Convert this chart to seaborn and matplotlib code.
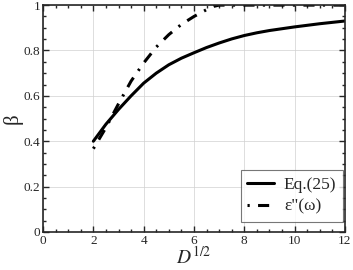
import matplotlib
matplotlib.use("Agg")
import matplotlib.pyplot as plt
import pandas as pd
import seaborn as sns
from matplotlib.ticker import MultipleLocator, FormatStrFormatter

# data
d_eq = [2, 2.5, 3, 3.5, 4, 4.5, 5, 5.5, 6, 6.5, 7, 7.5, 8, 8.5, 9, 9.5, 10, 10.5, 11, 11.5, 12]
beta_eq = [0.40, 0.475, 0.54, 0.60, 0.656, 0.70, 0.737, 0.766, 0.79, 0.813, 0.833, 0.851, 0.866,
           0.878, 0.888, 0.896, 0.904, 0.911, 0.918, 0.924, 0.93]
d_eps = [2, 2.5, 3, 3.5, 4, 4.5, 5, 5.5, 6, 6.5, 6.8, 7, 8, 9, 10, 11, 12]
beta_eps = [0.367, 0.46, 0.565, 0.665, 0.745, 0.815, 0.87, 0.915, 0.95, 0.98, 0.995, 1.0,
            1.0, 1.0, 1.0, 1.0, 1.0]

sns.set_style("ticks")
plt.rcParams['font.family'] = ['Liberation Serif', 'DejaVu Serif']
plt.rcParams['mathtext.fontset'] = 'stix'
plt.rcParams['lines.scale_dashes'] = False

fig = plt.figure(figsize=(3.53, 2.70), dpi=100)
ax = fig.add_axes([0.122, 0.141, 0.855, 0.840])

df_eq = pd.DataFrame({"D": d_eq, "beta": beta_eq})
df_eps = pd.DataFrame({"D": d_eps, "beta": beta_eps})
sns.lineplot(data=df_eq, x="D", y="beta", ax=ax, color="black", lw=2.2, label="Eq.(25)",
             legend=False)
sns.lineplot(data=df_eps, x="D", y="beta", ax=ax, color="black", lw=2.2, label="ε\"(ω)",
             legend=False, linestyle=(14, (8, 6, 1.6, 6)))

ax.set_xlim(0, 12)
ax.set_ylim(0, 1)
ax.xaxis.set_major_locator(MultipleLocator(2))
ax.xaxis.set_minor_locator(MultipleLocator(0.5))
ax.yaxis.set_major_locator(MultipleLocator(0.2))
ax.yaxis.set_minor_locator(MultipleLocator(0.05))
ax.yaxis.set_major_formatter(FormatStrFormatter('%g'))
ax.xaxis.set_major_formatter(FormatStrFormatter('%g'))
ax.tick_params(which='both', direction='in', top=True, right=True, labelsize=9.5, pad=2)
ax.tick_params(which='major', length=4, width=1)
ax.tick_params(which='minor', length=2.5, width=1)
for s in ax.spines.values():
    s.set_linewidth(1.2)
ax.grid(True, which='major', color='#d0d0d0', lw=0.5)

ax.set_xlabel(r"$D^{1/2}$", fontsize=14, labelpad=-1)
ax.set_ylabel("β", fontsize=15, labelpad=1)

leg = ax.legend(handles=ax.lines[:2], loc='lower right', bbox_to_anchor=(0.995, 0.045),
                fontsize=12.5, handlelength=1.5, handletextpad=0.6, frameon=True,
                fancybox=False, borderaxespad=0.0, edgecolor='#555555', labelspacing=0.3,
                borderpad=0.4)
leg.get_frame().set_linewidth(0.8)

fig.savefig("out.png", dpi=100)
